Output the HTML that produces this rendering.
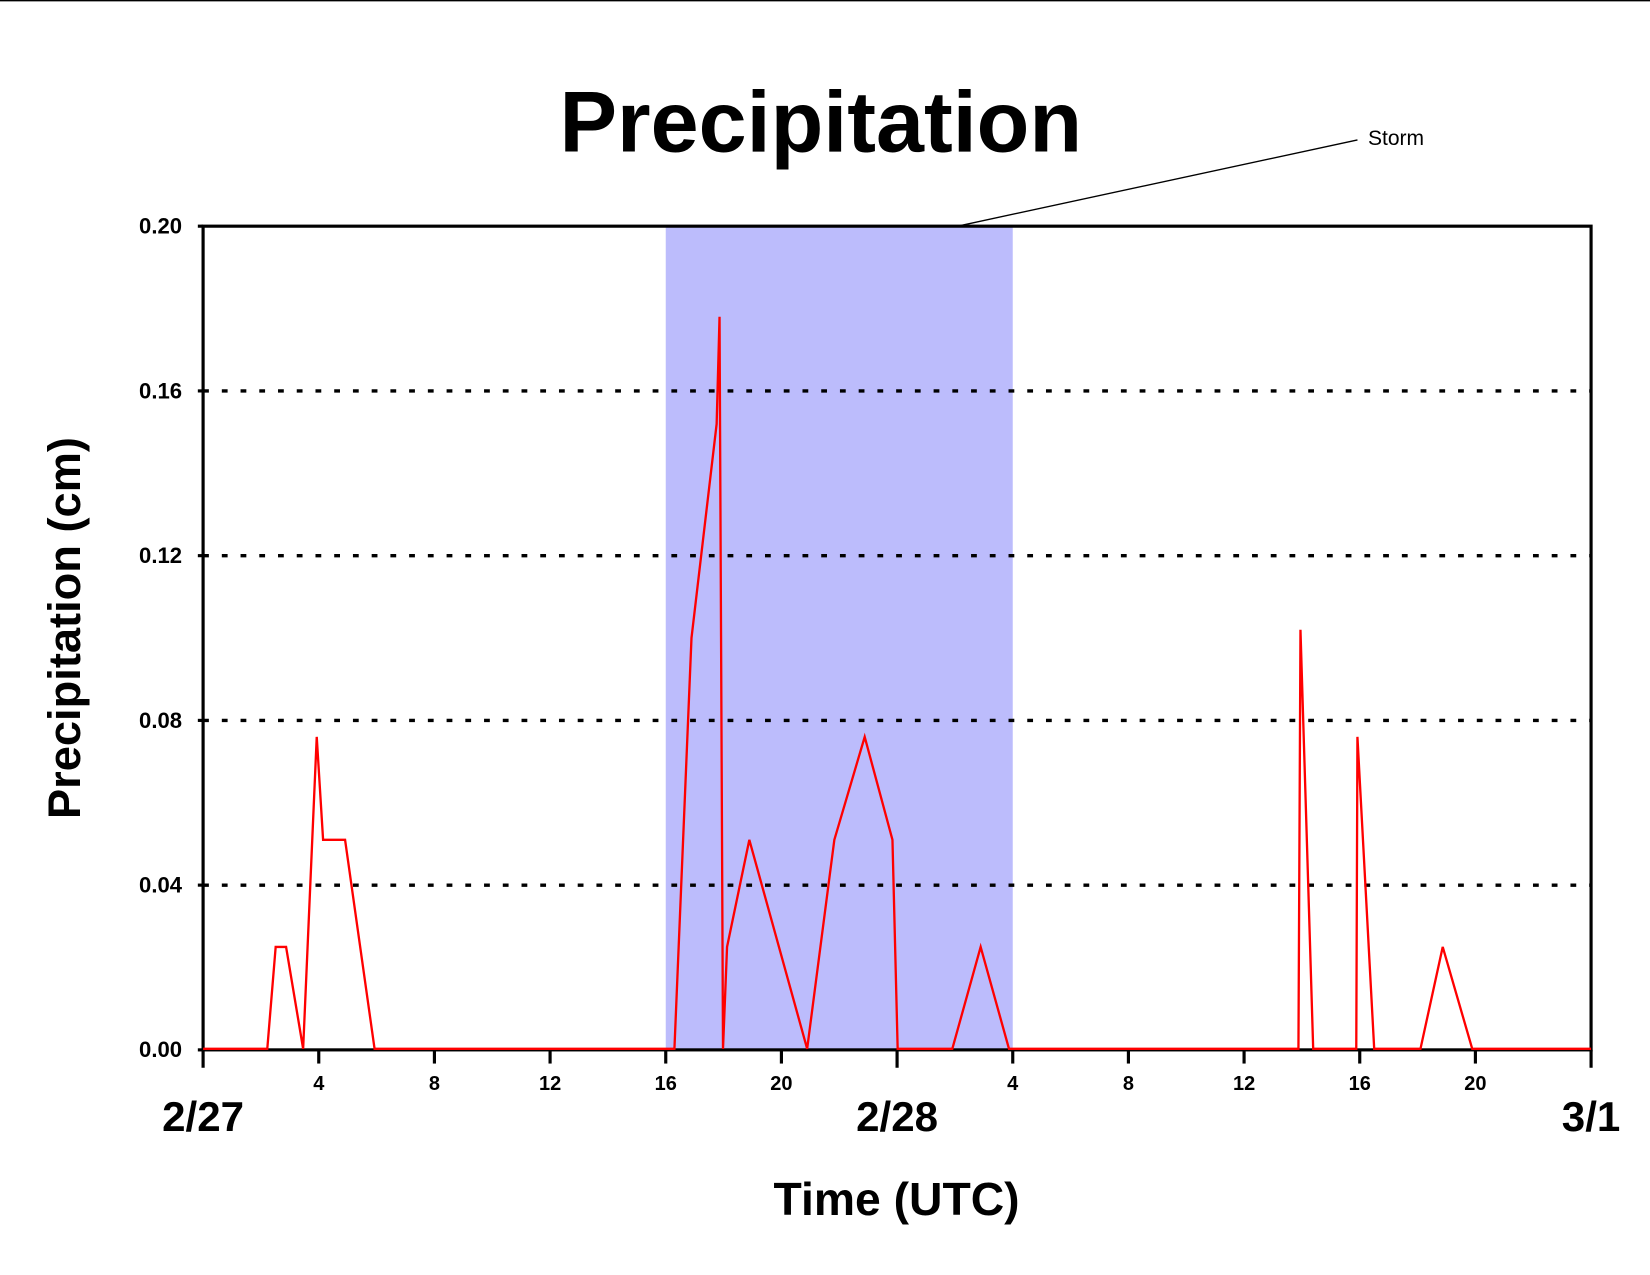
<!DOCTYPE html>
<html><head><meta charset="utf-8"><style>
html,body{margin:0;padding:0;background:#fff;}
svg{display:block;font-family:"Liberation Sans",Arial,sans-serif;}
</style></head><body>
<svg id="chart" width="1650" height="1275" viewBox="0 0 1568 1212" preserveAspectRatio="none" xmlns="http://www.w3.org/2000/svg">
<line x1="0" y1="0.5" x2="1568" y2="0.5" stroke="#000" stroke-width="1.5"/>
<text x="780" y="144" font-size="82" font-weight="bold" text-anchor="middle">Precipitation</text>
<text x="1300" y="138" font-size="20">Storm</text>
<line x1="910" y1="215" x2="1290" y2="133" stroke="#000" stroke-width="1.3"/>
<g id="grid"></g>
<g id="shade"></g>
<g id="axes"></g>
<g id="series"></g>
<text transform="translate(76,597) rotate(-90)" font-size="43" font-weight="bold" text-anchor="middle">Precipitation (cm)</text>
<text x="852" y="1155" font-size="44" font-weight="bold" text-anchor="middle">Time (UTC)</text>
</svg>
<script>
const hours = [0,2.22,2.51,2.87,3.46,3.93,4.15,4.91,5.93,16.3,16.89,17.76,17.86,17.98,18.12,18.89,20.89,21.83,22.88,23.84,24.02,25.91,26.89,27.87,37.88,37.95,38.39,39.88,39.92,40.5,42.1,42.87,43.89,48];
const precip = [0,0,0.025,0.025,0,0.076,0.051,0.051,0,0,0.1,0.152,0.178,0,0.025,0.051,0,0.051,0.076,0.051,0,0,0.025,0,0,0.102,0,0,0.076,0,0,0.025,0,0];
const yTicks = [0,0.04,0.08,0.12,0.16,0.2];
const yTickLabels = ["0.00","0.04","0.08","0.12","0.16","0.20"];
const xTicks = [0,4,8,12,16,20,24,28,32,36,40,44,48];
const xTickLabels = ["","4","8","12","16","20","","4","8","12","16","20",""];
const dateTicks = [0,24,48];
const dateLabels = ["2/27","2/28","3/1"];
const stormSpan = [16,28];

const L=193,R=1512,T=215,B=998,XMAX=48,YMAX=0.2;
const xs=h=>L+(R-L)*h/XMAX;
const ys=v=>B-(B-T)*v/YMAX;
const NS="http://www.w3.org/2000/svg";
function mk(tag,parent,attrs){const e=document.createElementNS(NS,tag);for(const k in attrs)e.setAttribute(k,attrs[k]);document.getElementById(parent).appendChild(e);return e;}

yTicks.forEach((v,i)=>{
  if(v>0&&v<YMAX){
    const g=mk('line','grid',{x1:L,x2:R,y1:ys(v),y2:ys(v),stroke:'#000','stroke-width':3.2,'stroke-dasharray':'5.5 12.3'});
    
    
  }
});
const sh=mk('rect','shade',{x:xs(stormSpan[0]),y:T,width:xs(stormSpan[1])-xs(stormSpan[0]),height:B-T,fill:'#bcbcfc',style:'mix-blend-mode:multiply'});


const fr=mk('rect','axes',{x:L,y:T,width:R-L,height:B-T,fill:'none',stroke:'#000','stroke-width':3});


yTicks.forEach((v,i)=>{
  const t=mk('line','axes',{x1:L-5,x2:L,y1:ys(v),y2:ys(v),stroke:'#000','stroke-width':3});
  
  
  const tx=mk('text','axes',{x:L-20,y:ys(v)+7,'font-size':21,'font-weight':'bold','text-anchor':'end'});
  tx.textContent=yTickLabels[i];
  
  
});
xTicks.forEach((h,i)=>{
  const major=dateTicks.includes(h);
  const t=mk('line','axes',{x1:xs(h),x2:xs(h),y1:B,y2:B+(major?17:13),stroke:'#000','stroke-width':3});
  
  
  if(xTickLabels[i]){
    const tx=mk('text','axes',{x:xs(h),y:B+38,'font-size':19,'font-weight':'bold','text-anchor':'middle'});
    tx.textContent=xTickLabels[i];
    
    
  }
});
dateTicks.forEach((h,i)=>{
  const tx=mk('text','axes',{x:xs(h),y:B+77,'font-size':40,'font-weight':'bold','text-anchor':'middle'});
  tx.textContent=dateLabels[i];
  
  
});
const pts=hours.map((h,i)=>xs(h)+','+(ys(precip[i])-(precip[i]===0?1:0))).join(' ');
const line=mk('polyline','series',{points:pts,fill:'none',stroke:'#f00','stroke-width':2.2,'stroke-linejoin':'miter'});


</script>
</body></html>
